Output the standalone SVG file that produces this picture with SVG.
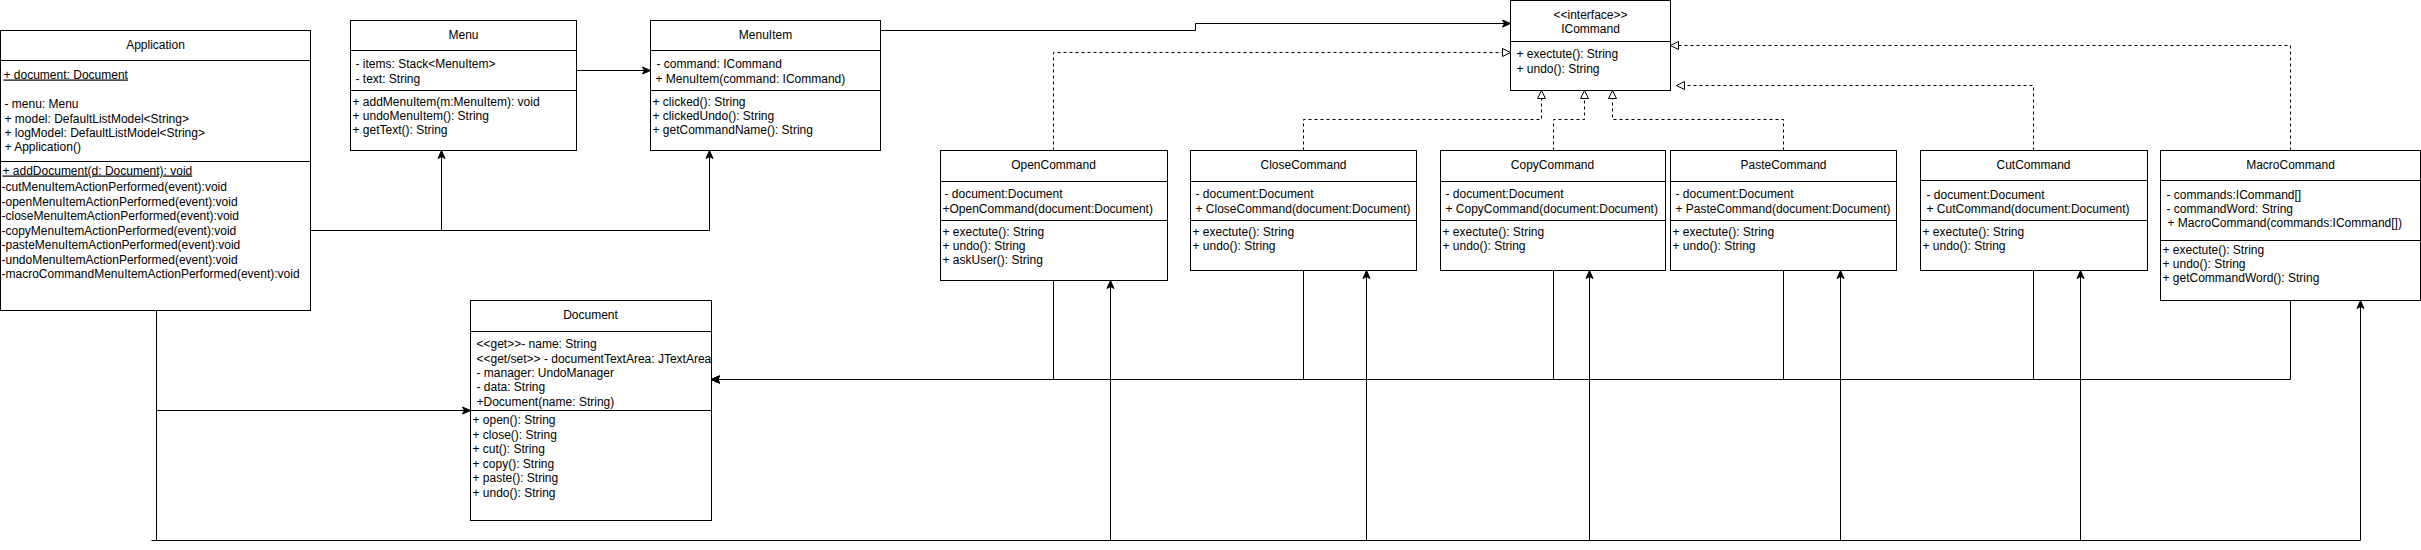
<svg xmlns="http://www.w3.org/2000/svg" width="2421" height="550" viewBox="0 0 2421 550">
<style>
.box{fill:#fff;stroke:#000;stroke-width:1}
.dv{fill:none;stroke:#000;stroke-width:1}
.t{font-family:"Liberation Sans",Arial,Helvetica,sans-serif;font-size:12px;fill:#000}
.c{text-anchor:middle}
.u{text-decoration:underline}
.ln{fill:none;stroke:#000;stroke-width:1}
.dash{stroke-dasharray:3 3}
</style>
<defs>
<marker id="arr" viewBox="-10 -5 12 10" refX="0" refY="0" markerWidth="12" markerHeight="10" markerUnits="userSpaceOnUse" orient="auto">
<path d="M0,0 L-8,-3.5 L-6,0 L-8,3.5 Z" fill="#000" stroke="#000" stroke-width="1"/>
</marker>
<marker id="tri" viewBox="-11 -6 13 12" refX="0" refY="0" markerWidth="13" markerHeight="12" markerUnits="userSpaceOnUse" orient="auto">
<path d="M0,0 L-8,-4 L-8,4 Z" fill="#fff" stroke="#000" stroke-width="1" stroke-dasharray="none"/>
</marker>
<clipPath id="docclip"><rect x="470" y="300" width="241" height="220"/></clipPath>
</defs>
<g transform="translate(0.5,0.5)">
<g id="connectors">
<path class="ln" d="M310,230 H441 V150" marker-end="url(#arr)"/>
<path class="ln" d="M310,230 H709 V150" marker-end="url(#arr)"/>
<path class="ln" d="M576,70 H650" marker-end="url(#arr)"/>
<path class="ln" d="M880,30 H1195 V23 H1510" marker-end="url(#arr)"/>
<path class="ln dash" d="M1053,150 V52 H1510" marker-end="url(#tri)"/>
<path class="ln dash" d="M1303,150 V119 H1541 V90" marker-end="url(#tri)"/>
<path class="ln dash" d="M1553,150 V119 H1584 V90" marker-end="url(#tri)"/>
<path class="ln dash" d="M1783,150 V119 H1612 V90" marker-end="url(#tri)"/>
<path class="ln dash" d="M2033,150 V85 H1676" marker-end="url(#tri)"/>
<path class="ln dash" d="M2290,150 V45 H1670" marker-end="url(#tri)"/>
<path class="ln" d="M1053,280 V379 H711" marker-end="url(#arr)"/>
<path class="ln" d="M1303,270 V379 H711" marker-end="url(#arr)"/>
<path class="ln" d="M1553,270 V379 H711" marker-end="url(#arr)"/>
<path class="ln" d="M1783,270 V379 H711" marker-end="url(#arr)"/>
<path class="ln" d="M2033,270 V379 H711" marker-end="url(#arr)"/>
<path class="ln" d="M2290,300 V379 H711" marker-end="url(#arr)"/>
<path class="ln" d="M156,310 V410 H470" marker-end="url(#arr)"/>
<path class="ln" d="M156,310 V540 H1110 V280" marker-end="url(#arr)"/>
<path class="ln" d="M156,540 H1366 V270" marker-end="url(#arr)"/>
<path class="ln" d="M156,540 H1589 V270" marker-end="url(#arr)"/>
<path class="ln" d="M156,540 H1840 V270" marker-end="url(#arr)"/>
<path class="ln" d="M156,540 H2080 V270" marker-end="url(#arr)"/>
<path class="ln" d="M151,540 H2360 V300" marker-end="url(#arr)"/>
</g>
<g id="application">
<rect class="box" x="0" y="30" width="310" height="280"/>
<path class="dv" d="M0,60 H310 M0,161 H310"/>
<text class="t c" x="155" y="48">Application</text>
<text class="t u" x="3" y="78">+ document: Document</text>
<text class="t" x="4" y="107">- menu: Menu</text>
<text class="t" x="4" y="122">+ model: DefaultListModel&lt;String&gt;</text>
<text class="t" x="4" y="136">+ logModel: DefaultListModel&lt;String&gt;</text>
<text class="t" x="4" y="150">+ Application()</text>
<text class="t u" x="2" y="174">+ addDocument(d: Document): void</text>
<text class="t" x="1" y="190">-cutMenuItemActionPerformed(event):void</text>
<text class="t" x="1" y="205">-openMenuItemActionPerformed(event):void</text>
<text class="t" x="1" y="219">-closeMenuItemActionPerformed(event):void</text>
<text class="t" x="1" y="234">-copyMenuItemActionPerformed(event):void</text>
<text class="t" x="1" y="248">-pasteMenuItemActionPerformed(event):void</text>
<text class="t" x="1" y="263">-undoMenuItemActionPerformed(event):void</text>
<text class="t" x="1" y="277">-macroCommandMenuItemActionPerformed(event):void</text>
</g>
<g id="menu">
<rect class="box" x="350" y="20" width="226" height="130"/>
<path class="dv" d="M350,50 H576 M350,90 H576"/>
<text class="t c" x="463" y="38">Menu</text>
<text class="t" x="355" y="67">- items: Stack&lt;MenuItem&gt;</text>
<text class="t" x="355" y="82">- text: String</text>
<text class="t" x="352" y="105">+ addMenuItem(m:MenuItem): void</text>
<text class="t" x="352" y="119">+ undoMenuItem(): String</text>
<text class="t" x="352" y="133">+ getText(): String</text>
</g>
<g id="menuitem">
<rect class="box" x="650" y="20" width="230" height="130"/>
<path class="dv" d="M650,50 H880 M650,90 H880"/>
<text class="t c" x="765" y="38">MenuItem</text>
<text class="t" x="656" y="67">- command: ICommand</text>
<text class="t" x="655" y="82">+ MenuItem(command: ICommand)</text>
<text class="t" x="652" y="105">+ clicked(): String</text>
<text class="t" x="652" y="119">+ clickedUndo(): String</text>
<text class="t" x="652" y="133">+ getCommandName(): String</text>
</g>
<g id="icommand">
<rect class="box" x="1510" y="0" width="160" height="90"/>
<path class="dv" d="M1510,41 H1670"/>
<text class="t c" x="1590" y="18">&lt;&lt;interface&gt;&gt;</text>
<text class="t c" x="1590" y="32">ICommand</text>
<text class="t" x="1516" y="57">+ exectute(): String</text>
<text class="t" x="1516" y="72">+ undo(): String</text>
</g>
<g id="opencommand">
<rect class="box" x="940" y="150" width="227" height="130"/>
<path class="dv" d="M940,181 H1167 M940,220 H1167"/>
<text class="t c" x="1053" y="168">OpenCommand</text>
<text class="t" x="944" y="197">- document:Document</text>
<text class="t" x="942" y="212">+OpenCommand(document:Document)</text>
<text class="t" x="942" y="235">+ exectute(): String</text>
<text class="t" x="942" y="249">+ undo(): String</text>
<text class="t" x="942" y="263">+ askUser(): String</text>
</g>
<g id="closecommand">
<rect class="box" x="1190" y="150" width="226" height="120"/>
<path class="dv" d="M1190,181 H1416 M1190,220 H1416"/>
<text class="t c" x="1303" y="168">CloseCommand</text>
<text class="t" x="1195" y="197">- document:Document</text>
<text class="t" x="1195" y="212">+ CloseCommand(document:Document)</text>
<text class="t" x="1192" y="235">+ exectute(): String</text>
<text class="t" x="1192" y="249">+ undo(): String</text>
</g>
<g id="copycommand">
<rect class="box" x="1440" y="150" width="225" height="120"/>
<path class="dv" d="M1440,181 H1665 M1440,220 H1665"/>
<text class="t c" x="1552" y="168">CopyCommand</text>
<text class="t" x="1445" y="197">- document:Document</text>
<text class="t" x="1445" y="212">+ CopyCommand(document:Document)</text>
<text class="t" x="1442" y="235">+ exectute(): String</text>
<text class="t" x="1442" y="249">+ undo(): String</text>
</g>
<g id="pastecommand">
<rect class="box" x="1670" y="150" width="226" height="120"/>
<path class="dv" d="M1670,181 H1896 M1670,220 H1896"/>
<text class="t c" x="1783" y="168">PasteCommand</text>
<text class="t" x="1675" y="197">- document:Document</text>
<text class="t" x="1675" y="212">+ PasteCommand(document:Document)</text>
<text class="t" x="1672" y="235">+ exectute(): String</text>
<text class="t" x="1672" y="249">+ undo(): String</text>
</g>
<g id="cutcommand">
<rect class="box" x="1920" y="150" width="227" height="120"/>
<path class="dv" d="M1920,180 H2147 M1920,220 H2147"/>
<text class="t c" x="2033" y="168">CutCommand</text>
<text class="t" x="1926" y="198">- document:Document</text>
<text class="t" x="1926" y="212">+ CutCommand(document:Document)</text>
<text class="t" x="1922" y="235">+ exectute(): String</text>
<text class="t" x="1922" y="249">+ undo(): String</text>
</g>
<g id="macrocommand">
<rect class="box" x="2160" y="150" width="260" height="150"/>
<path class="dv" d="M2160,180 H2420 M2160,240 H2420"/>
<text class="t c" x="2290" y="168">MacroCommand</text>
<text class="t" x="2166" y="198">- commands:ICommand[]</text>
<text class="t" x="2166" y="212">- commandWord: String</text>
<text class="t" x="2167" y="226">+ MacroCommand(commands:ICommand[])</text>
<text class="t" x="2162" y="253">+ exectute(): String</text>
<text class="t" x="2162" y="267">+ undo(): String</text>
<text class="t" x="2162" y="281">+ getCommandWord(): String</text>
</g>
<g id="document">
<rect class="box" x="470" y="300" width="241" height="220"/>
<path class="dv" d="M470,331 H711 M470,410 H711"/>
<text class="t c" x="590" y="318">Document</text>
<g clip-path="url(#docclip)">
<text class="t" x="476" y="347">&lt;&lt;get&gt;&gt;- name: String</text>
<text class="t" x="476" y="362">&lt;&lt;get/set&gt;&gt; - documentTextArea: JTextArea</text>
<text class="t" x="476" y="376">- manager: UndoManager</text>
<text class="t" x="476" y="390">- data: String</text>
<text class="t" x="476" y="405">+Document(name: String)</text>
<text class="t" x="472" y="423">+ open(): String</text>
<text class="t" x="472" y="438">+ close(): String</text>
<text class="t" x="472" y="452">+ cut(): String</text>
<text class="t" x="472" y="467">+ copy(): String</text>
<text class="t" x="472" y="481">+ paste(): String</text>
<text class="t" x="472" y="496">+ undo(): String</text>
</g>
</g>
</g>
</svg>
